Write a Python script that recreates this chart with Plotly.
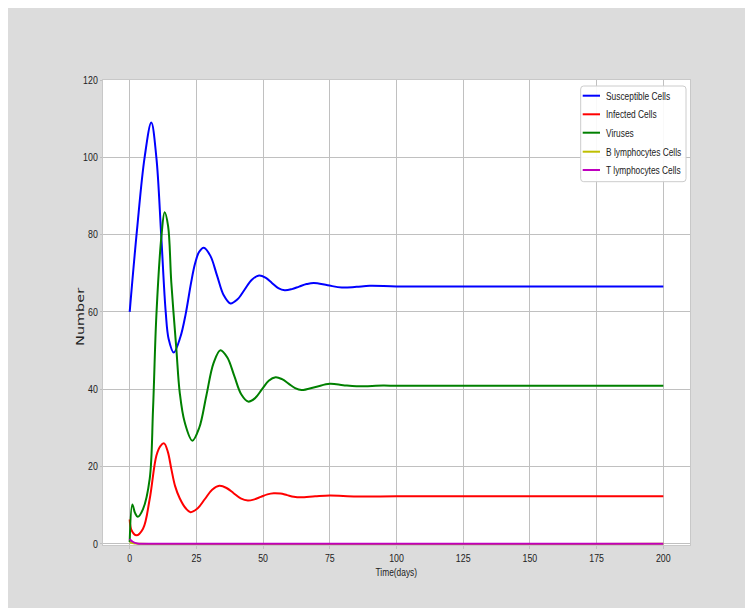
import plotly.graph_objects as go

# ---- data ----
t_S = [0, 2.75, 5.6, 8.1, 10, 11.8, 13.5, 14.6, 16.5, 19, 21, 23, 24.5, 26, 27.75,
       30.25, 32.75, 35.25, 37.75, 40.4, 43.1, 45.8, 48.5, 50.9, 53.3, 55.7, 58.1,
       60.8, 63.5, 66.3, 69, 74.2, 79.5, 85, 90, 100, 125, 150, 175, 200]
S = [60, 81.3, 100, 109, 100, 80, 60, 53, 49.5, 53.5, 59.5, 67.5, 72.5, 75.5, 76.6,
     74.5, 69.4, 64.3, 62.2, 63.25, 65.8, 68.35, 69.4, 68.85, 67.5, 66.15, 65.6,
     65.9, 66.55, 67.2, 67.5, 66.9, 66.3, 66.5, 66.75, 66.6, 66.6, 66.6, 66.6, 66.6]

t_I = [0, 0.7, 2.5, 5, 7.5, 10, 11.5, 12.9, 14.3, 15.6, 17, 18.75, 21, 22.8, 25.5, 28.2,
       30.9, 33.6, 36.3, 38.95, 41.6, 44.3, 46.7, 49.15, 51.6, 54, 56.5, 59, 61.5, 64,
       69.5, 75, 85, 100, 125, 150, 175, 200]
I = [6.3, 3.5, 2.2, 3.9, 11.6, 22.8, 25.3, 26, 23.8, 19.4, 15, 11.8, 9.2, 8.2, 9.2, 11.6,
     14.0, 15, 14.45, 13.1, 11.75, 11.2, 11.5, 12.15, 12.8, 13.1, 13.0, 12.6, 12.2, 12.05,
     12.3, 12.5, 12.25, 12.3, 12.3, 12.3, 12.3, 12.3]

t_V = [0, 1, 2, 3, 5, 7.5, 8.75, 10, 11.9, 13.1, 14.4, 15.6, 17.5, 18.75, 20.6, 23.5,
       26.1, 28.75, 31.4, 34, 36.6, 39.2, 41.8, 44.4, 47, 49.55, 52.1, 54.7, 57.1, 59.55,
       62, 64.4, 69.7, 75, 80, 85, 95, 100, 125, 150, 175, 200]
V = [0.5, 10.2, 8, 7, 9, 16.8, 34.8, 59, 79.6, 85.8, 82.2, 67.6, 50.3, 39.2, 31.5, 26.7,
     30.1, 38.4, 46.7, 50.1, 48.2, 43.45, 38.7, 36.8, 37.7, 39.95, 42.2, 43.1, 42.6, 41.45,
     40.3, 39.8, 40.6, 41.4, 41.05, 40.75, 40.95, 40.9, 40.9, 40.9, 40.9, 40.9]

t_B = [0, 1, 2, 4, 200]
B = [0.4, 0.2, 0.1, 0, 0]

t_T = [0, 0.5, 1, 2, 3, 4, 6, 200]
T = [1.3, 0.9, 0.6, 0.25, 0.1, 0.03, 0, 0]

names = ["Susceptible Cells", "Infected Cells", "Viruses", "B lymphocytes Cells", "T lymphocytes Cells"]
colors = ["#0000ff", "#ff0000", "#008000", "#bfbf00", "#bf00bf"]
x_ticks = [0, 25, 50, 75, 100, 125, 150, 175, 200]
y_ticks = [0, 20, 40, 60, 80, 100, 120]
x_title = "Time(days)"
y_title = "Number"

FONT = "Liberation Sans, Arial, sans-serif"

fig = go.Figure()
series = [(t_S, S), (t_I, I), (t_V, V), (t_B, B), (t_T, T)]
for (tx, ty), nm, c in zip(series, names, colors):
    fig.add_trace(go.Scatter(x=tx, y=ty, mode="lines", name=nm, showlegend=False,
                             line=dict(color=c, width=2, shape="spline", smoothing=1.0)))

W, H = 753, 608
ml, mr, mt, mb = 95, 71, 72, 71
pw, ph = W - ml - mr, H - mt - mb

def px_x(fx):
    return (fx - ml) / pw

def px_y(fy):
    return (H - mb - fy) / ph

# ---- legend drawn as a box + line samples + text ----
bx0, bx1, by0, by1, r = 572.7, 678.0, 78.0, 173.7, 3.0
box_path = (
    f"M{px_x(bx0 + r)},{px_y(by0)} L{px_x(bx1 - r)},{px_y(by0)} "
    f"Q{px_x(bx1)},{px_y(by0)} {px_x(bx1)},{px_y(by0 + r)} "
    f"L{px_x(bx1)},{px_y(by1 - r)} Q{px_x(bx1)},{px_y(by1)} {px_x(bx1 - r)},{px_y(by1)} "
    f"L{px_x(bx0 + r)},{px_y(by1)} Q{px_x(bx0)},{px_y(by1)} {px_x(bx0)},{px_y(by1 - r)} "
    f"L{px_x(bx0)},{px_y(by0 + r)} Q{px_x(bx0)},{px_y(by0)} {px_x(bx0 + r)},{px_y(by0)} Z"
)
shapes = [dict(type="path", xref="paper", yref="paper", path=box_path, layer="above",
               fillcolor="rgba(255,255,255,0.9)", line=dict(color="#cccccc", width=1))]
annotations = []
row_y = [87.7, 106.3, 124.7, 143.7, 162.0]
for nm, c, ry in zip(names, colors, row_y):
    shapes.append(dict(type="line", xref="paper", yref="paper", layer="above",
                       x0=px_x(574.7), x1=px_x(592.0), y0=px_y(ry), y1=px_y(ry),
                       line=dict(color=c, width=2)))
    annotations.append(dict(xref="paper", yref="paper", x=px_x(597.0), y=px_y(ry),
                            xanchor="left", yanchor="middle", align="left", showarrow=False,
                            borderpad=0, text=nm, font=dict(family=FONT, size=11, color="#222222")))

# axis titles
annotations.append(dict(xref="paper", yref="paper", x=0.5, y=px_y(564), xanchor="center",
                        yanchor="middle", showarrow=False, text=x_title,
                        font=dict(family=FONT, size=11, color="#222222")))
annotations.append(dict(xref="paper", yref="paper", x=px_x(72), y=px_y(309), xanchor="center",
                        yanchor="middle", showarrow=False, textangle=-90, text=y_title,
                        font=dict(family="DejaVu Sans", size=10, color="#222222")))

fig.update_layout(
    width=W, height=H,
    margin=dict(l=ml, r=mr, t=mt, b=mb),
    paper_bgcolor="#dcdcdc",
    plot_bgcolor="white",
    shapes=shapes,
    annotations=annotations,
    font=dict(family=FONT, size=11, color="#222222"),
    showlegend=False,
    xaxis=dict(range=[-10, 210], tickvals=x_ticks, ticktext=[str(v) for v in x_ticks],
               showgrid=True, gridcolor="#c0c0c0", gridwidth=1, zeroline=False,
               showline=True, linecolor="#c8c8c8", mirror=True,
               ticks="outside", ticklen=3, tickcolor="#c0c0c0",
               tickfont=dict(family=FONT, size=11, color="#222222")),
    yaxis=dict(range=[-0.3, 120], tickvals=y_ticks, ticktext=[str(v) for v in y_ticks],
               showgrid=True, gridcolor="#c0c0c0", gridwidth=1, zeroline=False,
               showline=True, linecolor="#c8c8c8", mirror=True,
               ticks="outside", ticklen=2, tickcolor="#c0c0c0",
               tickfont=dict(family=FONT, size=11, color="#222222")),
)

# condense the text horizontally (the reference uses a narrow face)
post_js = """
var gd = document.getElementById('{plot_id}');
function sq(t, len){ if(len > 0){ t.setAttribute('textLength', len.toFixed(2)); t.setAttribute('lengthAdjust', 'spacingAndGlyphs'); } }
gd.querySelectorAll('.xtick text, .ytick text').forEach(function(t){ sq(t, t.getComputedTextLength() * 0.8); });
gd.querySelectorAll('.annotation-text').forEach(function(t){
  if (t.textContent === 'Number') { sq(t, 58); }
  else { sq(t, t.getComputedTextLength() * 0.76); }
});
"""
fig.write_html("out.html", post_script=post_js)
